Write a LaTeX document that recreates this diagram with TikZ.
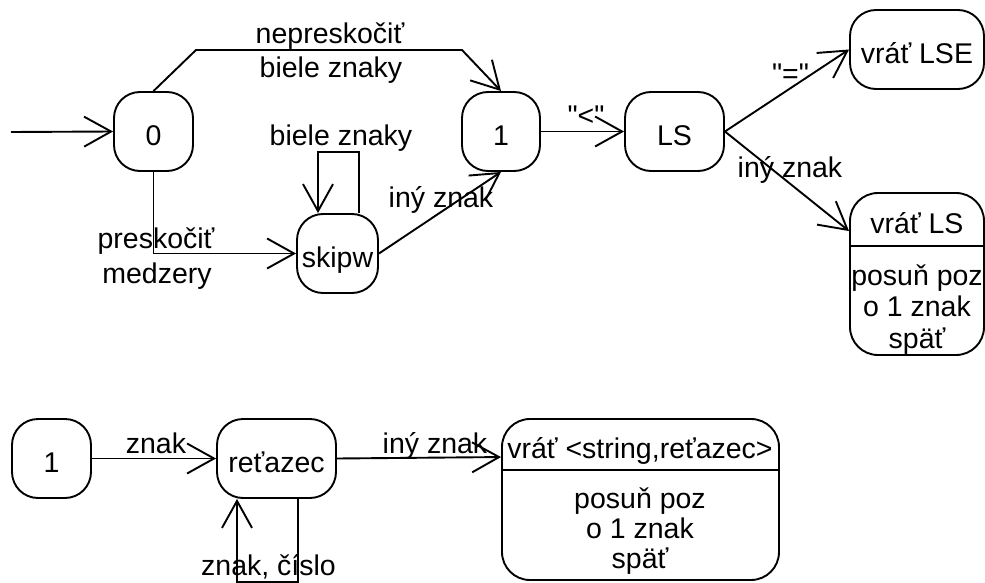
\documentclass[tikz,border=0pt]{standalone}
\usepackage{fontspec}
\setmainfont{Liberation Sans}[Ligatures=TeXOff]
\usetikzlibrary{arrows.meta,calc}
\begin{document}
\begin{tikzpicture}[x=1pt,y=-1pt,
  lw/.style={line width=1.9pt},
  state/.style={draw,lw,rounded corners=26pt,inner sep=0pt,text height=28pt,text depth=0pt,font=\fontsize{28.5}{31}\selectfont},
  bigbox/.style={draw,lw,rounded corners=28pt,inner sep=0pt},
  txt/.style={anchor=base,inner sep=0pt,font=\fontsize{28.5}{31}\selectfont},
  arr/.style={lw,-{Straight Barb[length=27pt,width=30pt,line width=1.9pt]}}]
\useasboundingbox (0,0) rectangle (985,583);
% top states
\node[state,minimum width=79pt,minimum height=79pt] (n0) at (153.5,131.5) {0};
\node[state,minimum width=81pt,minimum height=79pt] (skipw) at (337.5,253.5) {skipw};
\node[state,minimum width=78pt,minimum height=79pt] (n1) at (501,131.5) {1};
\node[state,minimum width=99pt,minimum height=79pt] (ls) at (674.5,131.5) {LS};
\node[state,minimum width=134pt,minimum height=79pt] (lse) at (917,49.5) {vráť LSE};
\node[bigbox,minimum width=134pt,minimum height=162pt] (ls2) at (917,274) {};
\draw[lw] ($(ls2.north west)+(0,54)$) -- ($(ls2.north east)+(0,54)$);
\node[txt] (ls2a) at (917,233) {vráť LS};
\node[txt] (ls2b) at (917,285) {posuň poz};
\node[txt] (ls2c) at (917,316) {o 1 znak};
\node[txt] (ls2d) at (917,348) {späť};
% top connectors
\coordinate (start) at (11,132);
\draw[arr] (start) -- (n0.west);
\draw[arr] (n0.north) -- (196,50) -- (462,50) -- (n1.north);
\node[txt] (l1) at (330,44) {nepreskočiť};
\node[txt] (l2) at (331,78) {biele znaky};
\draw[arr] (n0.south) |- (skipw.west);
\node[txt] (l3) at (156,248) {preskočiť};
\node[txt] (l4) at (157,283) {medzery};
\draw[arr] ([xshift=21.5pt]skipw.north) -- ++(0,-61) -| ([xshift=-19.5pt]skipw.north);
\node[txt] (l5) at (341,146) {biele znaky};
\draw[arr] (skipw.east) -- (n1.south);
\node[txt] (l6) at (441,207) {iný znak};
\draw[arr] (n1.east) -- (ls.west);
\node[txt] (l7) at (586,126) {"<"};
\draw[arr] (ls.east) -- (lse.west);
\node[txt] (l8) at (790.5,84) {"="};
\coordinate (ls2in) at ($(ls2.north west)+(0,39)$);
\draw[arr] (ls.east) -- (ls2in);
\node[txt] (l9) at (790,177) {iný znak};
% bottom
\node[state,minimum width=79pt,minimum height=79pt] (b1) at (51.5,458.5) {1};
\node[state,minimum width=119pt,minimum height=79pt] (ret) at (276.5,458.5) {reťazec};
\node[bigbox,minimum width=277pt,minimum height=161pt] (big) at (640.5,499.5) {};
\draw[lw] ($(big.north west)+(0,52)$) -- ($(big.north east)+(0,52)$);
\node[txt] (biga) at (640,458) {vráť <string,reťazec>};
\node[txt] (bigb) at (640,508) {posuň poz};
\node[txt] (bigc) at (640,538) {o 1 znak};
\node[txt] (bigd) at (640,568) {späť};
\draw[arr] (b1.east) -- (ret.west);
\node[txt] (l10) at (156,453) {znak};
\coordinate (bigin) at ($(big.north west)+(0,39)$);
\draw[arr] (ret.east) -- (bigin);
\node[txt] (l11) at (435,453) {iný znak};
\draw[arr] ([xshift=21.5pt]ret.south) -- ++(0,83) -| ([xshift=-39.5pt]ret.south);
\node[txt] (l12) at (268.5,575) {znak, číslo};
\end{tikzpicture}
\end{document}
